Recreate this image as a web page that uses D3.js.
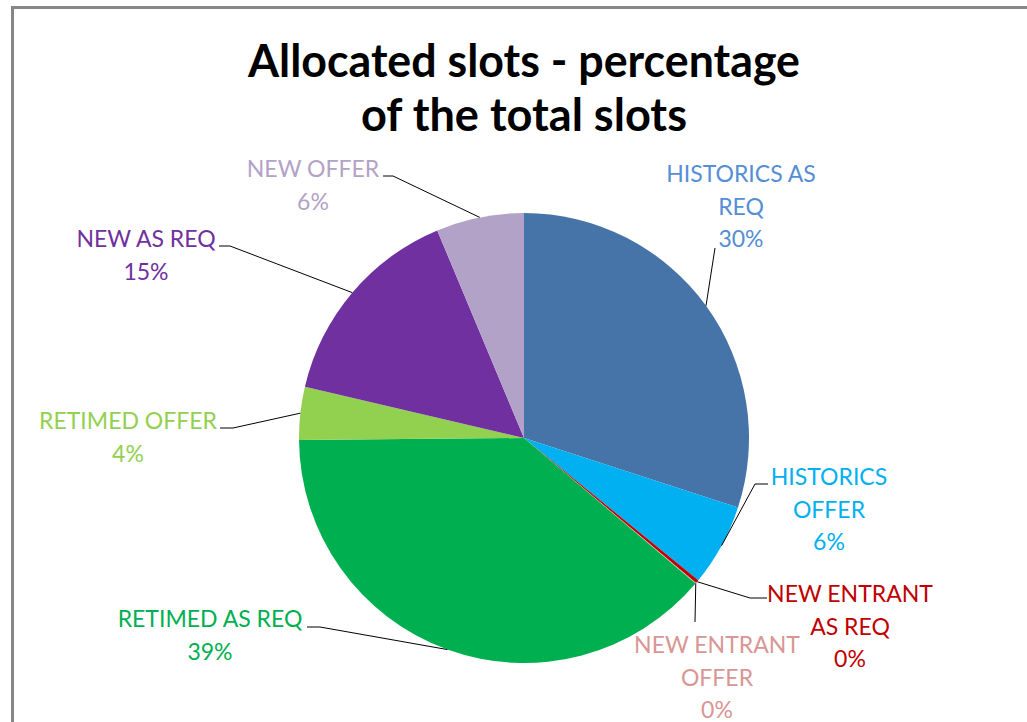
<!DOCTYPE html>
<html>
<head>
<meta charset="utf-8">
<script src="https://cdn.jsdelivr.net/npm/d3@7"></script>
<style>
  html, body { margin: 0; padding: 0; background: #fff; }
  svg { display: block; }
</style>
</head>
<body>
<svg id="chart" width="1027" height="722"></svg>
<script>
// ---- data ----
const categories = ["HISTORICS AS REQ", "HISTORICS OFFER", "NEW ENTRANT AS REQ", "NEW ENTRANT OFFER",
                    "RETIMED AS REQ", "RETIMED OFFER", "NEW AS REQ", "NEW OFFER"];
const values = [30.0, 5.9, 0.25, 0.05, 38.66, 3.8, 15.04, 6.3];
const titleLines = ["Allocated slots - percentage", "of the total slots"];

// ---- styles / layout ----
const sliceColors = ["#4674A8", "#00B0F0", "#C00000", "#E6B9B8", "#00B050", "#92D050", "#7030A0", "#B2A2C7"];
const labelColors = ["#558ED5", "#00B0F0", "#C00000", "#D99694", "#00B050", "#92D050", "#7030A0", "#B3A2C7"];
const labelLines = [["HISTORICS AS", "REQ"], ["HISTORICS", "OFFER"], ["NEW ENTRANT", "AS REQ"], ["NEW ENTRANT", "OFFER"],
                    ["RETIMED AS REQ"], ["RETIMED OFFER"], ["NEW AS REQ"], ["NEW OFFER"]];
// label centre x, first baseline y, leader start point, leader elbow point
const labelLayout = [
  {x: 741, y: 182, s: [715, 248], e: [715, 248]},
  {x: 829, y: 485, s: [768, 484], e: [755, 484]},
  {x: 850, y: 602, s: [767, 598], e: [750, 598]},
  {x: 717, y: 653, s: [695, 622], e: [695, 622]},
  {x: 210, y: 627, s: [307, 627], e: [320, 627]},
  {x: 128, y: 429, s: [220, 428], e: [233, 428]},
  {x: 146, y: 247, s: [219, 246], e: [230, 246]},
  {x: 313, y: 177, s: [383, 176], e: [393, 176]}
];
const cx = 524, cy = 438, R = 225;
const lineH = 32.5;

const svg = d3.select("#chart");

// frame
svg.append("rect")
  .attr("x", 12.5).attr("y", 7.5).attr("width", 1200).attr("height", 900)
  .attr("fill", "none").attr("stroke", "#878787").attr("stroke-width", 3);

// title
const title = svg.append("text")
  .attr("text-anchor", "middle")
  .attr("font-family", "Lato, 'Open Sans', sans-serif")
  .attr("font-weight", "bold")
  .attr("font-size", 45)
  .attr("fill", "#000");
const titleW = [552, 326];
titleLines.forEach((t, i) => {
  title.append("tspan").attr("x", cx).attr("y", 77 + i * 54).text(t)
    .attr("textLength", titleW[i]).attr("lengthAdjust", "spacingAndGlyphs");
});

// pie
const pie = d3.pie().sort(null).value(d => d);
const arcs = pie(values);
const arc = d3.arc().innerRadius(0).outerRadius(R);
const edge = d3.arc().innerRadius(R).outerRadius(R);

const g = svg.append("g").attr("transform", `translate(${cx},${cy})`);
g.selectAll("path.slice").data(arcs).join("path")
  .attr("class", "slice")
  .attr("d", arc)
  .attr("fill", (d, i) => sliceColors[i]);

// leader lines
const lineGen = d3.line();
svg.append("g").selectAll("path.leader").data(arcs).join("path")
  .attr("class", "leader")
  .attr("fill", "none")
  .attr("stroke", "#000")
  .attr("stroke-width", 1)
  .attr("d", (d, i) => {
    const L = labelLayout[i];
    const c = edge.centroid(d);
    return lineGen([L.s, L.e, [cx + c[0], cy + c[1]]]);
  });

// labels
const labels = svg.append("g").selectAll("text.lbl").data(arcs).join("text")
  .attr("class", "lbl")
  .attr("text-anchor", "middle")
  .attr("font-family", "Lato, 'Open Sans', sans-serif")
  .attr("font-size", 23)
  .attr("fill", (d, i) => labelColors[i]);
labels.each(function(d, i) {
  const L = labelLayout[i];
  const t = d3.select(this);
  const lines = labelLines[i].concat([Math.round(d.data) + "%"]);
  lines.forEach((ln, j) => {
    t.append("tspan").attr("x", L.x).attr("y", L.y + j * lineH).text(ln);
  });
});
</script>
</body>
</html>
